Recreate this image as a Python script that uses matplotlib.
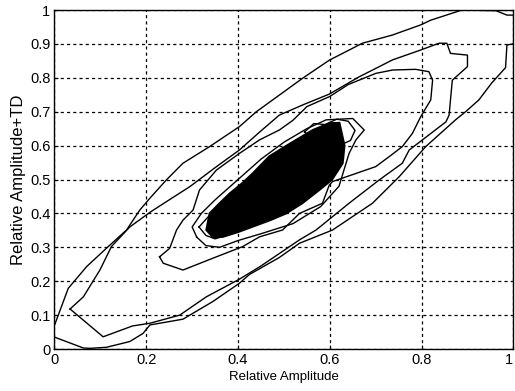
import numpy as np
import matplotlib.pyplot as plt

plt.rcParams['font.family'] = ['Liberation Sans', 'DejaVu Sans']

# outermost contour, upper-left branch (left edge -> top right corner)
c1_up_x = [0, 0.03, 0.07, 0.113, 0.157, 0.186, 0.208, 0.244, 0.28, 0.338, 0.403, 0.44,
           0.49, 0.541, 0.599, 0.671, 0.736, 0.798, 0.82, 0.888, 0.962, 0.986, 1.0]
c1_up_y = [0.07, 0.179, 0.243, 0.297, 0.351, 0.41, 0.445, 0.499, 0.548, 0.597, 0.656, 0.70,
           0.749, 0.799, 0.852, 0.902, 0.926, 0.956, 0.97, 1.0, 0.998, 0.985, 0.985]

# outermost contour, lower-right branch (left edge -> right edge)
c1_lo_x = [0, 0.063, 0.077, 0.113, 0.164, 0.193, 0.208, 0.28, 0.345, 0.403, 0.425, 0.49,
           0.534, 0.606, 0.693, 0.751, 0.809, 0.874, 0.896, 0.925, 0.953, 0.983, 0.986, 1.0]
c1_lo_y = [0.035, 0.003, 0.002, 0.005, 0.022, 0.046, 0.071, 0.088, 0.14, 0.194, 0.22, 0.27,
           0.312, 0.351, 0.43, 0.508, 0.597, 0.676, 0.70, 0.735, 0.785, 0.83, 0.897, 0.9]

# second contour (closed)
c2_x = [0.034, 0.063, 0.099, 0.124, 0.164, 0.21, 0.25, 0.295, 0.353, 0.403, 0.447, 0.49,
        0.541, 0.599, 0.664, 0.737, 0.798, 0.838, 0.855, 0.863, 0.9, 0.9, 0.867, 0.863,
        0.86, 0.853, 0.802, 0.773, 0.758, 0.708, 0.642, 0.57, 0.534, 0.45, 0.403, 0.331,
        0.273, 0.208, 0.17, 0.106, 0.034]
c2_y = [0.118, 0.154, 0.233, 0.302, 0.36, 0.405, 0.44, 0.479, 0.538, 0.587, 0.64, 0.69,
        0.72, 0.752, 0.803, 0.853, 0.882, 0.902, 0.902, 0.872, 0.867, 0.833, 0.793, 0.735,
        0.69, 0.67, 0.617, 0.587, 0.548, 0.499, 0.43, 0.351, 0.322, 0.245, 0.206, 0.154,
        0.10, 0.076, 0.068, 0.036, 0.118]

# third contour (closed)
c3_x = [0.229, 0.251, 0.266, 0.28, 0.302, 0.316, 0.353, 0.403, 0.447, 0.49, 0.52, 0.55,
        0.6, 0.64, 0.7, 0.737, 0.787, 0.816, 0.824, 0.82, 0.798, 0.78, 0.758, 0.729, 0.70,
        0.606, 0.599, 0.584, 0.534, 0.497, 0.447, 0.41, 0.353, 0.28, 0.237, 0.229]
c3_y = [0.272, 0.297, 0.351, 0.38, 0.41, 0.469, 0.528, 0.577, 0.617, 0.646, 0.675, 0.715,
        0.745, 0.78, 0.813, 0.823, 0.825, 0.818, 0.793, 0.735, 0.685, 0.636, 0.597, 0.567,
        0.538, 0.494, 0.484, 0.43, 0.40, 0.351, 0.331, 0.302, 0.272, 0.233, 0.253, 0.272]

# jagged ring around the dense core
c4_x = [0.31, 0.33, 0.36, 0.40, 0.45, 0.52, 0.58, 0.62, 0.642, 0.657, 0.675, 0.65, 0.592,
        0.55, 0.50, 0.45, 0.40, 0.35, 0.32, 0.30, 0.31]
c4_y = [0.33, 0.305, 0.30, 0.32, 0.34, 0.37, 0.42, 0.48, 0.577, 0.617, 0.646, 0.68, 0.676,
        0.65, 0.61, 0.56, 0.50, 0.44, 0.40, 0.36, 0.33]

# small loops at the ends of the core
c5_x = [0.545, 0.565, 0.59, 0.615, 0.64, 0.655, 0.645, 0.62, 0.585, 0.56, 0.545]
c5_y = [0.64, 0.665, 0.662, 0.678, 0.672, 0.645, 0.615, 0.60, 0.61, 0.625, 0.64]
c6_x = [0.315, 0.335, 0.36, 0.385, 0.375, 0.35, 0.33, 0.315]
c6_y = [0.36, 0.39, 0.385, 0.36, 0.335, 0.325, 0.335, 0.36]

# dense core (many overlapping inner contours)
core_x = [0.599, 0.621, 0.632, 0.628, 0.605, 0.577, 0.54, 0.505, 0.47, 0.432, 0.40, 0.367,
          0.345, 0.331, 0.338, 0.36, 0.382, 0.41, 0.432, 0.468, 0.50, 0.527, 0.563, 0.599]
core_y = [0.666, 0.667, 0.60, 0.548, 0.50, 0.469, 0.43, 0.40, 0.38, 0.361, 0.345, 0.331,
          0.33, 0.351, 0.40, 0.43, 0.459, 0.49, 0.518, 0.568, 0.595, 0.617, 0.646, 0.666]

xticks = [0, 0.2, 0.4, 0.6, 0.8, 1]
xtick_labels = ['0', '0.2', '0.4', '0.6', '0.8', '1']
yticks = [0, 0.1, 0.2, 0.3, 0.4, 0.5, 0.6, 0.7, 0.8, 0.9, 1]
ytick_labels = ['0', '0.1', '0.2', '0.3', '0.4', '0.5', '0.6', '0.7', '0.8', '0.9', '1']

fig = plt.figure(figsize=(5.15, 3.91), dpi=100)
ax = fig.add_axes([0.1058, 0.1074, 0.891, 0.867])

lw = 1.0
for xs, ys in [(c1_up_x, c1_up_y), (c1_lo_x, c1_lo_y), (c2_x, c2_y), (c3_x, c3_y),
               (c4_x, c4_y), (c5_x, c5_y), (c6_x, c6_y)]:
    ax.plot(xs, ys, color='black', lw=lw)
ax.fill(core_x, core_y, color='black', lw=1.5)

ax.set_xlim(0, 1)
ax.set_ylim(0, 1)
ax.set_xticks(xticks)
ax.set_xticklabels(xtick_labels, fontsize=10.5)
ax.get_xticklabels()[-1].set_horizontalalignment('right')
ax.set_yticks(yticks)
ax.set_yticklabels(ytick_labels, fontsize=10.5)
ax.tick_params(direction='in', length=3, pad=3)
ax.grid(True, color='black', linestyle=(0, (2.5, 2.5)), linewidth=0.9)
for s in ax.spines.values():
    s.set_linewidth(1.0)

ax.set_xlabel('Relative Amplitude', fontsize=9.5, labelpad=3)
ax.set_ylabel('Relative Amplitude+TD', fontsize=12, labelpad=3)

fig.savefig('out.png', dpi=100)
